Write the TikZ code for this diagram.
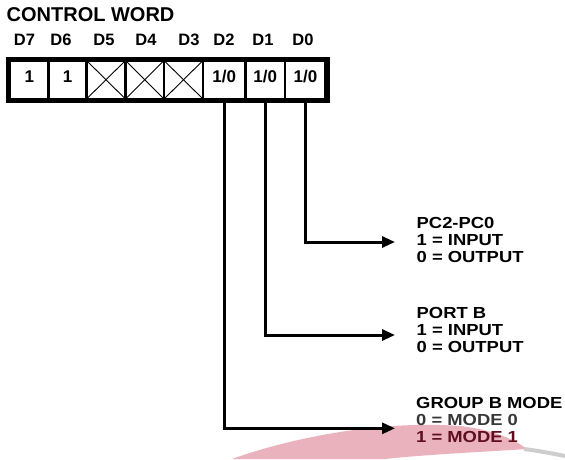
\documentclass[tikz,border=0pt]{standalone}
\usepackage{fontspec}
\setmainfont{Liberation Sans}
\newfontfamily\lblfont{Liberation Sans}[FakeStretch=1.15]
\usetikzlibrary{arrows.meta}
\definecolor{wmpink}{RGB}{234,178,188}
\definecolor{wmgray}{RGB}{205,205,205}
\definecolor{modezero}{RGB}{55,55,55}
\definecolor{modeone}{RGB}{95,15,30}
\begin{document}
\begin{tikzpicture}[x=1pt,y=-1pt,
  cell/.style={draw, line width=2.7pt, minimum height=38.5pt, inner sep=0pt,
    font=\fontsize{17}{17}\selectfont\bfseries, text height=12pt, text depth=7.3pt},
  dlbl/.style={anchor=base, inner sep=0pt, font=\fontsize{16.5}{16.5}\selectfont\bfseries},
  lbl/.style={anchor=north west, inner sep=0pt, align=left,
    font=\lblfont\bfseries\fontsize{16}{17}\selectfont},
  conn/.style={line width=3pt, -{Triangle[length=13pt,width=11pt]}},
  xline/.style={line width=0.9pt}]
\useasboundingbox (0,0) rectangle (565,459);
% watermark swoosh
\fill[wmpink] (232,459) .. controls (290,438) and (380,420) .. (460,426)
  .. controls (495,430) and (515,440) .. (527,449)
  .. controls (480,452) and (420,455) .. (385,459) -- cycle;
\draw[wmgray, line width=4pt] (524,449) .. controls (540,451) and (555,454) .. (565,456);
% title
\node[anchor=base west, inner sep=0pt, font=\fontsize{20}{20}\selectfont\bfseries] (title) at (6.5,21.7) {CONTROL WORD};
% bit labels
\node[dlbl] (l7) at (24.5,45) {D7};
\node[dlbl] (l6) at (61,45) {D6};
\node[dlbl] (l5) at (104,45) {D5};
\node[dlbl] (l4) at (146,45) {D4};
\node[dlbl] (l3) at (189,45) {D3};
\node[dlbl] (l2) at (224,45) {D2};
\node[dlbl] (l1) at (263,45) {D1};
\node[dlbl] (l0) at (303,45) {D0};
% cells
\node[cell, minimum width=38.5pt] (b7) at (29.25,79.75) {1};
\node[cell, minimum width=38pt] (b6) at (67.5,79.75) {1};
\node[cell, minimum width=39pt] (b5) at (106,79.75) {};
\node[cell, minimum width=38.5pt] (b4) at (144.75,79.75) {};
\node[cell, minimum width=39pt] (b3) at (183.5,79.75) {};
\node[cell, minimum width=42.5pt] (b2) at (224.25,79.75) {1/0};
\node[cell, minimum width=39.5pt] (b1) at (265.25,79.75) {1/0};
\node[cell, minimum width=40.8pt] (b0) at (305.4,79.75) {1/0};
\foreach \c in {b5,b4,b3}{
  \draw[xline] (\c.north west) -- (\c.south east);
  \draw[xline] (\c.south west) -- (\c.north east);
}
\draw[line width=5pt] (b7.north west) rectangle (b0.south east);
% labels
\node[lbl] (pc) at (416.5,217) {PC2-PC0\\1 = INPUT\\0 = OUTPUT};
\node[lbl] (pb) at (416.5,307.3) {PORT B\\1 = INPUT\\0 = OUTPUT};
\node[lbl] (gb) at (416,397.3) {GROUP B MODE\\\textcolor{modezero}{0 = MODE 0}\\\textcolor{modeone}{1 = MODE 1}};
% connectors
\coordinate (tip0) at (395,242);
\coordinate (tip1) at (395,335);
\coordinate (tip2) at (395,428.3);
\draw[conn] (b0.south) |- (tip0);
\draw[conn] (b1.south) |- (tip1);
\draw[conn] (b2.south) |- (tip2);
\end{tikzpicture}
\end{document}
